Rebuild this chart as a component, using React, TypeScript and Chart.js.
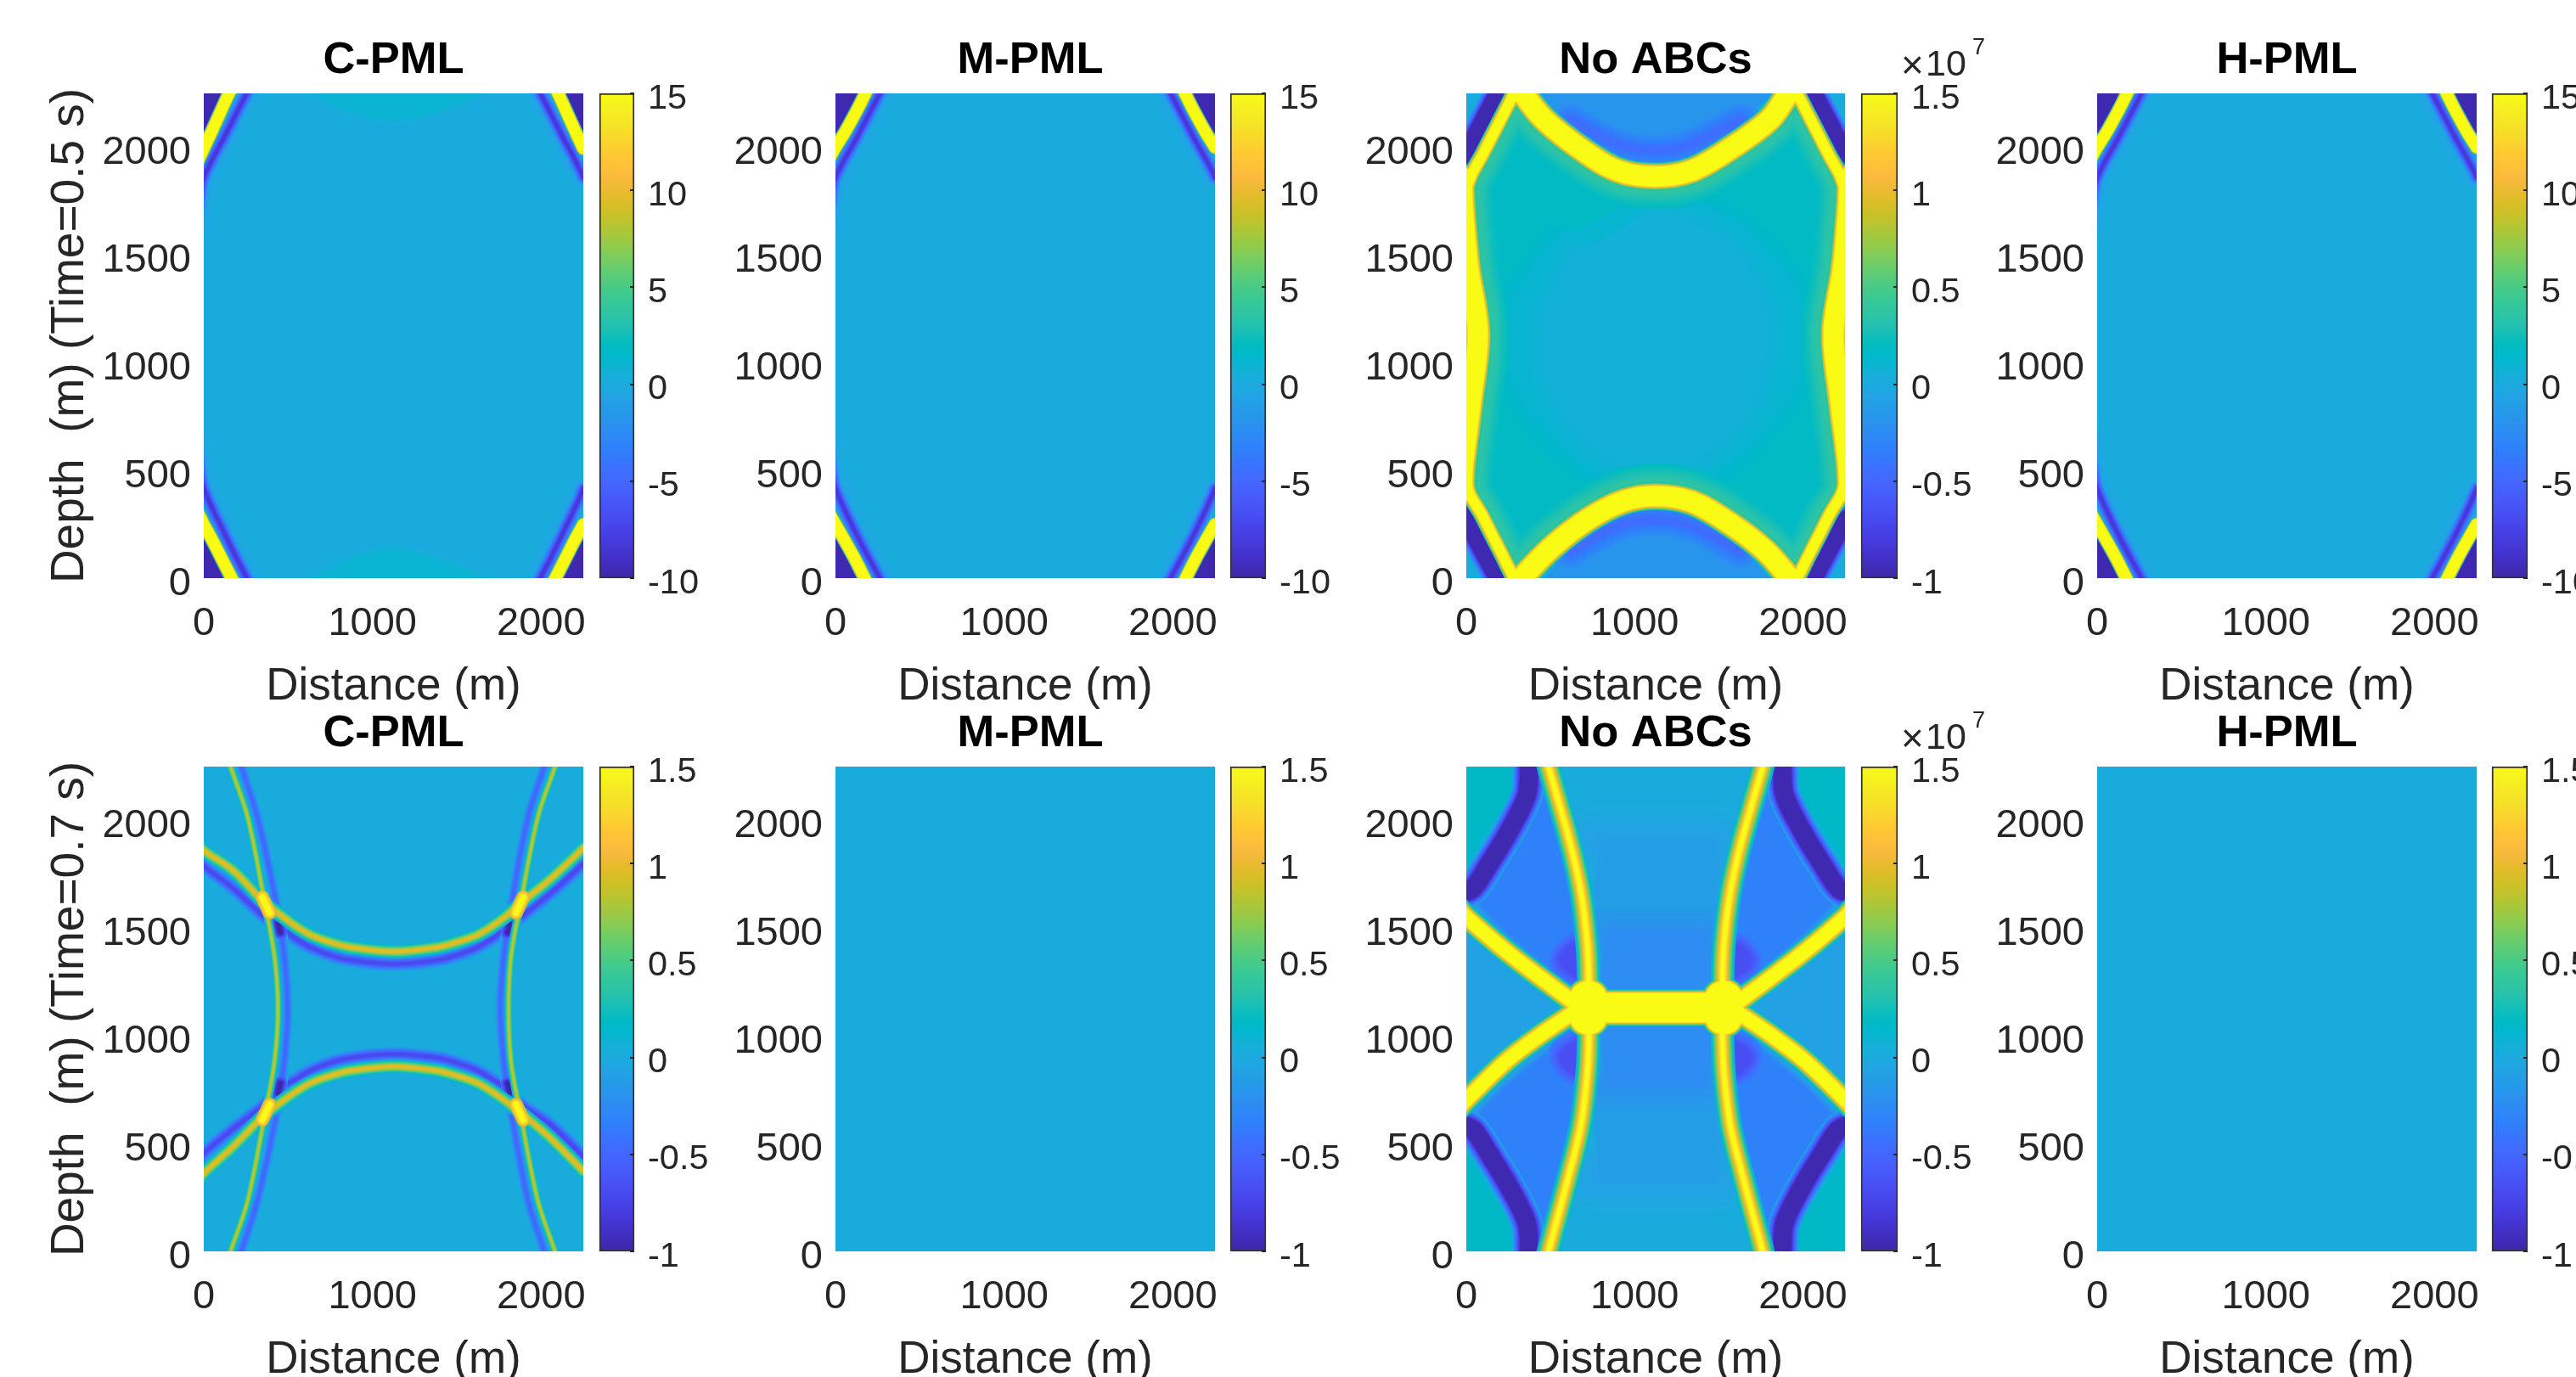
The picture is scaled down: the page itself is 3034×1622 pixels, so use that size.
import React, { useEffect, useRef } from "react";
import { Chart, registerables } from "chart.js";

Chart.register(...registerables);

type P = number[];
// ---------- axis data ----------
const xTicks = [0, 1000, 2000];
const yTicks = [0, 500, 1000, 1500, 2000];
const axisMax = 2250;
const pmlEarlyBar = [-10, 15];
const pmlEarlyBarTicks = [-10, -5, 0, 5, 10, 15];
const unitBar = [-1, 1.5];
const unitBarTicks = [-1, -0.5, 0, 0.5, 1, 1.5];
const domain: P[] = [[0, 0], [2250, 0], [2250, 2250], [0, 2250]];

// ---------- C-PML, t = 0.5 s (metres) ----------
const c5CornerTL: P[] = [[0, 2250], [150, 2250], [0, 1994]];
const c5CornerTR: P[] = [[2250, 2250], [2100, 2250], [2250, 1994]];
const c5CornerBL: P[] = [[0, 0], [165, 0], [0, 250]];
const c5CornerBR: P[] = [[2250, 0], [2085, 0], [2250, 250]];
const c5CrestTL: P[] = [[190, 2310], [150, 2250], [100, 2165], [50, 2078], [0, 1994], [-35, 1935]];
const c5CrestTR: P[] = [[2060, 2310], [2100, 2250], [2150, 2165], [2200, 2078], [2250, 1994], [2285, 1935]];
const c5CrestBL: P[] = [[205, -60], [165, 0], [110, 85], [55, 170], [0, 250], [-35, 305]];
const c5CrestBR: P[] = [[2045, -60], [2085, 0], [2140, 85], [2195, 170], [2250, 250], [2285, 305]];
const c5TroughTL: P[] = [[300, 2310], [255, 2250], [130, 2060], [0, 1860], [-25, 1760], [-45, 1620]];
const c5TroughTR: P[] = [[1950, 2310], [1995, 2250], [2120, 2060], [2250, 1860], [2275, 1760], [2295, 1620]];
const c5TroughBL: P[] = [[300, -60], [255, 0], [130, 195], [0, 416], [-25, 510], [-45, 650]];
const c5TroughBR: P[] = [[1950, -60], [1995, 0], [2120, 195], [2250, 416], [2275, 510], [2295, 650]];
const c5BumpTop: P[] = [[665, 2260], [860, 2180], [1125, 2140], [1390, 2180], [1650, 2260]];
const c5BumpBottom: P[] = [[665, -10], [860, 70], [1125, 120], [1390, 70], [1650, -10]];

// ---------- M-PML / H-PML, t = 0.5 s ----------
const m5CornerTL: P[] = [[0, 2250], [178, 2250], [0, 1999]];
const m5CornerTR: P[] = [[2250, 2250], [2072, 2250], [2250, 1999]];
const m5CornerBL: P[] = [[0, 0], [173, 0], [0, 250]];
const m5CornerBR: P[] = [[2250, 0], [2077, 0], [2250, 250]];
const m5CrestTL: P[] = [[215, 2310], [178, 2250], [120, 2160], [60, 2075], [0, 1999], [-35, 1950]];
const m5CrestTR: P[] = [[2035, 2310], [2072, 2250], [2130, 2160], [2190, 2075], [2250, 1999], [2285, 1950]];
const m5CrestBL: P[] = [[210, -60], [173, 0], [115, 90], [55, 175], [0, 250], [-35, 300]];
const m5CrestBR: P[] = [[2040, -60], [2077, 0], [2135, 90], [2195, 175], [2250, 250], [2285, 300]];
const m5TroughTL: P[] = [[305, 2310], [263, 2250], [130, 2050], [0, 1860], [-25, 1760], [-45, 1620]];
const m5TroughTR: P[] = [[1945, 2310], [1987, 2250], [2120, 2050], [2250, 1860], [2275, 1760], [2295, 1620]];
const m5TroughBL: P[] = [[305, -60], [263, 0], [130, 195], [0, 416], [-25, 510], [-45, 650]];
const m5TroughBR: P[] = [[1945, -60], [1987, 0], [2120, 195], [2250, 416], [2275, 510], [2295, 650]];

// ---------- No ABCs, t = 0.5 s ----------
const n5Interior: P[] = [[90, 2000], [300, 2190], [700, 1960], [1120, 1864], [1540, 1960], [1950, 2190], [2160, 2000], [2200, 1695], [2170, 1138], [2200, 540], [2160, 250], [1950, 60], [1540, 290], [1120, 381], [700, 290], [300, 60], [90, 250], [50, 540], [77, 1138], [50, 1695]];
const n5EllipseOuter: P[] = [[1120, 1800], [1720, 1560], [2008, 1135], [1720, 660], [1120, 416], [520, 660], [232, 1135], [520, 1560]];
const n5EllipseInner: P[] = [[1120, 1715], [1600, 1500], [1763, 1135], [1600, 720], [1120, 520], [640, 720], [476, 1135], [640, 1500]];
const n5ArcTop: P[] = [[263, 2320], [335, 2250], [463, 2128], [695, 1984], [900, 1891], [1120, 1864], [1338, 1891], [1570, 1994], [1802, 2128], [1915, 2250], [1987, 2320]];
const n5ArcBottom: P[] = [[250, -80], [329, 0], [515, 148], [721, 272], [927, 355], [1120, 381], [1338, 355], [1570, 252], [1776, 128], [1921, 0], [2000, -80]];
const n5SideLeft: P[] = [[-25, 1860], [-25, 1800], [-18, 1695], [10, 1448], [68, 1138], [28, 829], [-18, 540], [-25, 450], [-25, 400]];
const n5SideRight: P[] = [[2275, 1860], [2275, 1800], [2268, 1695], [2240, 1448], [2182, 1138], [2222, 829], [2268, 540], [2275, 450], [2275, 400]];
const n5DiagTL: P[] = [[330, 2320], [283, 2248], [163, 2066], [95, 1963], [30, 1870], [-5, 1790]];
const n5DiagTR: P[] = [[1920, 2320], [1967, 2248], [2087, 2066], [2155, 1963], [2220, 1870], [2255, 1790]];
const n5DiagBL: P[] = [[330, -70], [283, 0], [215, 107], [154, 200], [89, 300], [21, 390], [-5, 470]];
const n5DiagBR: P[] = [[1920, -70], [1967, 0], [2035, 107], [2096, 200], [2161, 300], [2229, 390], [2255, 470]];
const n5DomeTop: P[] = [[425, 2260], [643, 2087], [900, 1994], [1120, 1963], [1338, 1994], [1596, 2097], [1840, 2260]];
const n5DomeBottom: P[] = [[450, -10], [669, 159], [900, 262], [1120, 293], [1338, 262], [1596, 159], [1815, -10]];
const n5DomeShadeTop: P[] = [[620, 2130], [900, 2015], [1120, 1985], [1338, 2015], [1630, 2130]];
const n5DomeShadeBottom: P[] = [[620, 120], [900, 240], [1120, 270], [1338, 240], [1630, 120]];
const n5DarkTL: P[] = [[230, 2320], [185, 2248], [90, 2107], [0, 1973], [-40, 1910]];
const n5DarkTR: P[] = [[2020, 2320], [2065, 2248], [2160, 2107], [2250, 1973], [2290, 1910]];
const n5DarkBL: P[] = [[230, -70], [185, 0], [90, 138], [0, 272], [-40, 335]];
const n5DarkBR: P[] = [[2020, -70], [2065, 0], [2160, 138], [2250, 272], [2290, 335]];

// ---------- C-PML, t = 0.7 s ----------
const c7ArcUpper: P[] = [[-40, 1900], [0, 1861], [174, 1768], [361, 1617], [463, 1557], [550, 1507], [636, 1468], [750, 1435], [868, 1412], [1128, 1392], [1388, 1412], [1500, 1435], [1620, 1468], [1705, 1507], [1793, 1557], [1880, 1617], [2053, 1727], [2250, 1872], [2290, 1910]];
const c7ArcLower: P[] = [[-40, 320], [0, 362], [174, 486], [361, 633], [463, 695], [550, 743], [636, 782], [750, 815], [868, 838], [1128, 858], [1388, 838], [1500, 815], [1620, 782], [1705, 743], [1793, 695], [1895, 633], [2053, 527], [2250, 372], [2290, 335]];
const c7ShadeUpper: P[] = [[-40, 1830], [0, 1789], [174, 1685], [361, 1551], [463, 1499], [550, 1449], [636, 1410], [750, 1375], [868, 1352], [1128, 1334], [1388, 1352], [1500, 1375], [1620, 1410], [1705, 1449], [1793, 1499], [1880, 1551], [2053, 1660], [2250, 1800], [2290, 1840]];
const c7ShadeLower: P[] = [[-40, 415], [0, 455], [174, 569], [361, 682], [448, 755], [550, 801], [636, 840], [750, 875], [868, 898], [1128, 916], [1388, 898], [1500, 875], [1620, 840], [1705, 801], [1793, 755], [1880, 682], [2053, 590], [2250, 440], [2290, 400]];
const c7WaveLeft: P[] = [[140, 2310], [159, 2250], [260, 2016], [361, 1620], [419, 1370], [440, 1127], [419, 880], [361, 630], [260, 234], [159, 0], [140, -60]];
const c7WaveRight: P[] = [[2100, 2310], [2082, 2250], [1981, 2016], [1880, 1620], [1822, 1370], [1807, 1127], [1822, 880], [1880, 630], [1981, 234], [2082, 0], [2100, -60]];
const c7ShadeLeft: P[] = [[205, 2310], [223, 2250], [318, 2016], [434, 1600], [477, 1370], [497, 1127], [477, 880], [434, 650], [318, 234], [223, 0], [205, -60]];
const c7ShadeRight: P[] = [[2037, 2310], [2019, 2250], [1923, 2016], [1822, 1600], [1779, 1370], [1758, 1127], [1779, 880], [1822, 650], [1923, 234], [2019, 0], [2037, -60]];
const c7HotTL: P[] = [[347, 1644], [390, 1571]];
const c7HotTR: P[] = [[1894, 1644], [1851, 1571]];
const c7HotBL: P[] = [[390, 682], [347, 610]];
const c7HotBR: P[] = [[1851, 682], [1894, 610]];
const c7ColdTL: P[] = [[440, 1520], [455, 1480]];
const c7ColdTR: P[] = [[1815, 1520], [1800, 1480]];
const c7ColdBL: P[] = [[455, 780], [440, 735]];
const c7ColdBR: P[] = [[1800, 780], [1815, 735]];

// ---------- No ABCs, t = 0.7 s ----------
const n7ColumnUp: P[] = [[790, 1900], [1460, 1900], [1540, 1180], [710, 1180]];
const n7ColumnDown: P[] = [[710, 1080], [1540, 1080], [1460, 350], [790, 350]];
const n7CoreUp: P[] = [[840, 1480], [1410, 1480], [1490, 1180], [770, 1180]];
const n7CoreDown: P[] = [[770, 1080], [1490, 1080], [1410, 780], [840, 780]];
const n7GapLeft: P[] = [[0, 1450], [520, 1131], [0, 800]];
const n7GapRight: P[] = [[2250, 1450], [1730, 1131], [2250, 800]];
const n7CornerTL: P[] = [[0, 2250], [309, 2250], [232, 2099], [103, 1954], [0, 1820]];
const n7CornerTR: P[] = [[2250, 2250], [1941, 2250], [2018, 2099], [2147, 1954], [2250, 1820]];
const n7CornerBL: P[] = [[0, 0], [309, 0], [232, 151], [103, 296], [0, 430]];
const n7CornerBR: P[] = [[2250, 0], [1941, 0], [2018, 151], [2147, 296], [2250, 430]];
const n7WedgeTL: P[] = [[437, 2250], [592, 1892], [674, 1582], [682, 1272], [618, 1251], [438, 1354], [232, 1489], [51, 1634], [129, 1747], [335, 1975], [425, 2140]];
const n7WedgeTR: P[] = [[1813, 2250], [1658, 1892], [1576, 1582], [1568, 1272], [1632, 1251], [1812, 1354], [2018, 1489], [2199, 1634], [2121, 1747], [1915, 1975], [1825, 2140]];
const n7WedgeBL: P[] = [[437, 0], [592, 358], [674, 668], [682, 978], [618, 999], [438, 896], [232, 761], [51, 616], [129, 503], [335, 275], [425, 110]];
const n7WedgeBR: P[] = [[1813, 0], [1658, 358], [1576, 668], [1568, 978], [1632, 999], [1812, 896], [2018, 761], [2199, 616], [2121, 503], [1915, 275], [1825, 110]];
const n7TipTL: P[] = [[660, 1270], [570, 1320], [560, 1370], [650, 1430], [680, 1350]];
const n7TipTR: P[] = [[1590, 1270], [1680, 1320], [1690, 1370], [1600, 1430], [1570, 1350]];
const n7TipBL: P[] = [[660, 980], [570, 930], [560, 880], [650, 820], [680, 900]];
const n7TipBR: P[] = [[1590, 980], [1680, 930], [1690, 880], [1600, 820], [1570, 900]];
const n7DarkTL: P[] = [[385, 2320], [373, 2250], [360, 2120], [257, 1954], [129, 1789], [39, 1685], [-30, 1660]];
const n7DarkTR: P[] = [[1865, 2320], [1877, 2250], [1890, 2120], [1993, 1954], [2121, 1789], [2211, 1685], [2280, 1660]];
const n7DarkBL: P[] = [[385, -70], [373, 0], [360, 130], [257, 296], [129, 461], [39, 565], [-30, 590]];
const n7DarkBR: P[] = [[1865, -70], [1877, 0], [1890, 130], [1993, 296], [2121, 461], [2211, 565], [2280, 590]];
const n7FrontLeft: P[] = [[475, 2310], [489, 2250], [618, 1892], [682, 1665], [720, 1417], [728, 1230], [728, 1003], [720, 839], [682, 589], [605, 341], [489, 0], [475, -60]];
const n7FrontRight: P[] = [[1775, 2310], [1761, 2250], [1632, 1892], [1568, 1665], [1530, 1417], [1522, 1230], [1522, 1003], [1530, 839], [1568, 589], [1645, 341], [1761, 0], [1775, -60]];
const n7DiagTL: P[] = [[-40, 1585], [0, 1551], [232, 1396], [438, 1272], [680, 1131]];
const n7DiagBL: P[] = [[-40, 670], [0, 703], [232, 879], [438, 1003], [680, 1131]];
const n7DiagTR: P[] = [[2290, 1585], [2250, 1551], [2018, 1396], [1812, 1272], [1570, 1131]];
const n7DiagBR: P[] = [[2290, 670], [2250, 703], [2018, 879], [1812, 1003], [1570, 1131]];
const n7Bar: P[] = [[725, 1131], [1530, 1131]];
const n7BlobLeft: P[] = [[725, 1095], [725, 1167]];
const n7BlobRight: P[] = [[1530, 1095], [1530, 1167]];

// ---------- colour map (parula, 64 levels) ----------
const parula: P[] = [
  [.2422, .1504, .6603], [.2504, .165, .7076], [.2578, .1818, .7511], [.2647, .1978, .7952], [.2706, .2147, .8364], [.2751, .2342, .871], [.2783, .2559, .8991], [.2803, .2782, .9221],
  [.2813, .3006, .9414], [.281, .3228, .9579], [.2795, .3447, .9717], [.276, .3667, .9829], [.2699, .3892, .9906], [.2602, .4123, .9952], [.244, .4358, .9988], [.2206, .4603, .9973],
  [.1963, .4847, .9892], [.1834, .5074, .9798], [.1786, .5289, .9682], [.1764, .5499, .952], [.1687, .5703, .9359], [.154, .5902, .9218], [.146, .6091, .9079], [.138, .6276, .8973],
  [.1248, .6459, .8883], [.1113, .6635, .8763], [.0952, .6798, .8598], [.0689, .6948, .8394], [.0297, .7082, .8163], [.0036, .7203, .7917], [.0067, .7312, .766], [.0433, .7411, .7394],
  [.0964, .75, .712], [.1408, .7584, .6842], [.1717, .767, .6554], [.1938, .7758, .6251], [.2161, .7843, .5923], [.247, .7918, .5567], [.2906, .7973, .5188], [.3406, .8008, .4789],
  [.3909, .8029, .4354], [.4456, .8024, .3909], [.5044, .7993, .348], [.5616, .7942, .3045], [.6174, .7876, .2612], [.672, .7793, .2227], [.7242, .7698, .191], [.7738, .7598, .1646],
  [.8203, .7498, .1535], [.8634, .7406, .1596], [.9035, .733, .1774], [.9393, .7288, .21], [.9728, .7298, .2394], [.9956, .7434, .2371], [.997, .7659, .2199], [.9952, .7861, .1991],
  [.9892, .813, .1885], [.9786, .8422, .1778], [.9676, .8724, .1624], [.961, .8904, .1536], [.9597, .9135, .1426], [.9628, .9373, .1265], [.9691, .9606, .1064], [.9769, .9839, .0805],
];
function cmap(t: number) {
  const f = Math.max(0, Math.min(1, t)) * 63;
  const i = Math.min(62, Math.floor(f));
  const k = f - i;
  const c = parula[i].map((v, j) => Math.round(255 * (v + (parula[i + 1][j] - v) * k)));
  return `rgb(${c[0]},${c[1]},${c[2]})`;
}

// ---------- mark builders ----------
const BASE = 0.405;
function ds(pts: P[], extra: any) {
  return {
    data: pts.map(([x, y]) => ({ x, y })),
    showLine: true, pointRadius: 0, pointHoverRadius: 0, clip: 0,
    capBezierPoints: false, borderCapStyle: "round", borderJoinStyle: "round",
    ...extra,
  };
}
// Crossing fronts share their colour levels, so that they merge at the joints.
type Stroke = [P[], number, number, number?];
function merged(strokes: Stroke[], tCore: number, tEdge = BASE, n = 8) {
  const out: any[] = [];
  for (let i = 0; i <= n; i++) {
    const k = i / n;
    strokes.forEach(([pts, wCore, wHalo, tension = 0.35]) => {
      out.push(ds(pts, { borderWidth: wHalo + (wCore - wHalo) * k, borderColor: cmap(tEdge + (tCore - tEdge) * k), tension, fill: false }));
    });
  }
  return out;
}
function band(pts: P[], tCore: number, wCore: number, wHalo: number, tEdge = BASE, n = 7, tension = 0.35) {
  return merged([[pts, wCore, wHalo, tension]], tCore, tEdge, n);
}
function area(pts: P[], t: number, soft = 0, tEdge = BASE, n = 6, tension = 0) {
  if (soft === 0) return [ds(pts, { borderWidth: 0, backgroundColor: cmap(t), fill: "shape", tension })];
  const out: any[] = [];
  for (let i = 0; i <= n; i++) {
    const k = i / n;
    const c = cmap(tEdge + (t - tEdge) * k);
    out.push(ds(pts, { borderWidth: soft * (1 - k) + 0.01, borderColor: c, backgroundColor: c, fill: "shape", tension }));
  }
  return out;
}

const flat = () => area(domain, BASE);

const c5Layers = () => [
  ...flat(),
  ...area(c5BumpTop, 0.425, 24, BASE, 5, 0.35), ...area(c5BumpTop, 0.44, 12, 0.425, 4, 0.35),
  ...area(c5BumpBottom, 0.425, 24, BASE, 5, 0.35), ...area(c5BumpBottom, 0.44, 12, 0.425, 4, 0.35),
  ...[c5TroughTL, c5TroughTR, c5TroughBL, c5TroughBR].flatMap((p) => [...band(p, 0.375, 18, 38, BASE, 4), ...band(p, 0.07, 4, 18, 0.375, 6)]),
  ...[c5CornerTL, c5CornerTR, c5CornerBL, c5CornerBR].flatMap((p) => area(p, 0.01)),
  ...[c5CrestTL, c5CrestTR, c5CrestBL, c5CrestBR].flatMap((p) => band(p, 1, 13, 17, 0.45, 4)),
];
const m5Layers = () => [
  ...flat(),
  ...[m5TroughTL, m5TroughTR, m5TroughBL, m5TroughBR].flatMap((p) => [...band(p, 0.375, 18, 38, BASE, 4), ...band(p, 0.07, 4, 18, 0.375, 6)]),
  ...[m5CornerTL, m5CornerTR, m5CornerBL, m5CornerBR].flatMap((p) => area(p, 0.01)),
  ...[m5CrestTL, m5CrestTR, m5CrestBL, m5CrestBR].flatMap((p) => band(p, 1, 13, 17, 0.45, 4)),
];
const n5Crests = (growCore: number, growHalo: number): Stroke[] => [
  [n5ArcTop, 23 + growCore, 33 + growHalo], [n5ArcBottom, 23 + growCore, 33 + growHalo],
  [n5SideLeft, 23 + growCore, 33 + growHalo], [n5SideRight, 23 + growCore, 33 + growHalo],
  [n5DiagTL, 11 + growCore, 20 + growHalo], [n5DiagTR, 11 + growCore, 20 + growHalo], [n5DiagBL, 11 + growCore, 20 + growHalo], [n5DiagBR, 11 + growCore, 20 + growHalo],
];
const n5Layers = () => [
  ...flat(),
  ...area(n5Interior, 0.475),
  ...area(n5EllipseOuter, 0.445, 60, 0.475, 8, 0.4),
  ...area(n5EllipseInner, 0.425, 60, 0.445, 8, 0.4),
  ...merged(n5Crests(10, 44), 0.56, 0.475, 10),
  ...area(n5DomeTop, 0.33, 6, 0.45, 3, 0.35),
  ...area(n5DomeBottom, 0.33, 6, 0.45, 3, 0.35),
  ...band(n5DomeShadeTop, 0.22, 8, 46, 0.33, 6),
  ...band(n5DomeShadeBottom, 0.22, 8, 46, 0.33, 6),
  ...[n5DarkTL, n5DarkTR, n5DarkBL, n5DarkBR].flatMap((p) => band(p, 0.01, 20, 34, 0.36, 5)),
  ...merged(n5Crests(0, 0), 1, 0.5, 7),
];
const c7Layers = () => [
  ...flat(),
  ...[c7ShadeUpper, c7ShadeLower].flatMap((p) => band(p, 0.12, 4, 20)),
  ...[c7ShadeLeft, c7ShadeRight].flatMap((p) => band(p, 0.2, 3, 14)),
  ...[c7ColdTL, c7ColdTR, c7ColdBL, c7ColdBR].flatMap((p) => band(p, 0, 5, 16, 0.2, 4)),
  ...merged([[c7ArcUpper, 4, 17], [c7ArcLower, 4, 17]], 0.78),
  ...merged([[c7WaveLeft, 2, 10], [c7WaveRight, 2, 10]], 0.74),
  ...[c7HotTL, c7HotTR, c7HotBL, c7HotBR].flatMap((p) => band(p, 1, 6, 16, 0.76, 5, 0)),
];
const n7Layers = () => [
  ...flat(),
  ...[n7ColumnUp, n7ColumnDown].flatMap((p) => area(p, 0.355, 100, BASE, 8)),
  ...[n7CoreUp, n7CoreDown].flatMap((p) => area(p, 0.305, 70, 0.355, 8)),
  ...[n7GapLeft, n7GapRight].flatMap((p) => area(p, 0.37, 30)),
  ...[n7CornerTL, n7CornerTR, n7CornerBL, n7CornerBR].flatMap((p) => area(p, 0.47, 30)),
  ...[n7WedgeTL, n7WedgeTR, n7WedgeBL, n7WedgeBR].flatMap((p) => area(p, 0.27, 20)),
  ...[n7TipTL, n7TipTR, n7TipBL, n7TipBR].flatMap((p) => area(p, 0.13, 30, 0.27, 8, 0.4)),
  ...[n7DarkTL, n7DarkTR, n7DarkBL, n7DarkBR].flatMap((p) => band(p, 0.01, 21, 38, 0.36, 6)),
  ...merged([
    [n7FrontLeft, 5, 28], [n7FrontRight, 5, 28],
    [n7DiagTL, 15, 29], [n7DiagBL, 15, 29], [n7DiagTR, 15, 29], [n7DiagBR, 15, 29],
    [n7Bar, 34, 44, 0], [n7BlobLeft, 44, 54, 0], [n7BlobRight, 44, 54, 0],
  ], 1, BASE, 10),
];

// ---------- layout ----------
const FONT = "'Liberation Sans', Arial, sans-serif";
const INK = "#262626";
const M = 230, T = 100, B = 170;
const rows = [{ top: 110, h: 571 }, { top: 903, h: 571 }];
const cols = [
  { left: 240, w: 447, barLeft: 706, barW: 41, titleShift: 0 },
  { left: 984, w: 447, barLeft: 1449, barW: 42, titleShift: 12 },
  { left: 1727, w: 446, barLeft: 2192, barW: 43, titleShift: 0 },
  { left: 2470, w: 447, barLeft: 2935, barW: 42, titleShift: 0 },
];
const titles = ["C-PML", "M-PML", "No ABCs", "H-PML"];
const depthLabels = ["Depth  (m) (Time=0.5 s)", "Depth  (m) (Time=0.7 s)"];
const xLabel = "Distance (m)";
const layers = [
  [c5Layers, m5Layers, n5Layers, m5Layers],
  [c7Layers, flat, n7Layers, flat],
];

function Panel({ row, col }: { row: number; col: number }) {
  const ref = useRef<HTMLCanvasElement>(null);
  const r = rows[row], c = cols[col];
  useEffect(() => {
    // Chart.js paints dataset 0 last, so the bottom layer goes at the end.
    const stack = (layers[row][col]() as any[]).slice().reverse();
    const chart = new Chart(ref.current!, {
      type: "scatter",
      data: { datasets: stack },
      options: {
        animation: false, responsive: false, devicePixelRatio: 1, events: [],
        plugins: {
          legend: { display: false }, tooltip: { enabled: false },
          title: {
            display: true, text: titles[col], color: "#000",
            font: { family: FONT, size: 52.5, weight: "bold", lineHeight: 1.2 },
            padding: { top: 30.5, bottom: 6.5 },
          },
        },
        scales: {
          x: {
            type: "linear", min: 0, max: axisMax,
            afterBuildTicks: (a: any) => { a.ticks = xTicks.map((value) => ({ value })); },
            afterFit: (s: any) => { s.height = B; },
            grid: { display: false, drawTicks: false }, border: { display: false },
            ticks: { color: INK, font: { family: FONT, size: 47 }, padding: 26, maxRotation: 0, autoSkip: false, callback: (v: any) => String(v) },
            title: { display: true, text: xLabel, color: INK, font: { family: FONT, size: 53, lineHeight: 1.2 }, padding: { top: 0, bottom: 10 } },
          },
          y: {
            type: "linear", min: 0, max: axisMax,
            afterBuildTicks: (a: any) => { a.ticks = yTicks.map((value) => ({ value })); },
            afterFit: (s: any) => { s.width = M; },
            grid: { display: false, drawTicks: false }, border: { display: false },
            ticks: { color: INK, font: { family: FONT, size: 47, lineHeight: 0.3 }, padding: 15, autoSkip: false, callback: (v: any) => ["", String(v)] },
            title: { display: col === 0, text: depthLabels[row], color: INK, font: { family: FONT, size: 55, lineHeight: 1.2 }, padding: { top: 40, bottom: 0 } },
          },
          gutter: {
            type: "linear", position: "right", display: true,
            afterFit: (s: any) => { s.width = M + c.titleShift; },
            grid: { display: false, drawTicks: false }, border: { display: false },
            ticks: { display: false },
          },
        },
      } as any,
    });
    return () => chart.destroy();
  }, []);
  return (
    <canvas ref={ref} width={c.w + 2 * M + c.titleShift} height={r.h + T + B}
      style={{ position: "absolute", left: c.left - M, top: r.top - T }} />
  );
}

const BT = 80, BB = 40, BR = 160;
function ColorBar({ row, col }: { row: number; col: number }) {
  const ref = useRef<HTMLCanvasElement>(null);
  const r = rows[row], c = cols[col];
  const exponent = col === 2;
  const unit = row === 1 || exponent;
  const range = unit ? unitBar : pmlEarlyBar;
  const ticks = unit ? unitBarTicks : pmlEarlyBarTicks;
  useEffect(() => {
    const extras = {
      id: "barExtras",
      afterDraw(chart: any) {
        const g = chart.ctx, y = chart.scales.y, a = chart.chartArea;
        g.save();
        g.strokeStyle = INK; g.lineWidth = 2;
        ticks.forEach((v) => {
          const py = Math.round(y.getPixelForValue(v));
          g.beginPath(); g.moveTo(a.right - 5, py); g.lineTo(a.right, py); g.stroke();
        });
        if (exponent) {
          g.fillStyle = INK; g.textBaseline = "middle"; g.textAlign = "left";
          g.font = `46px ${FONT}`;
          g.fillText("\u00d7", a.left + 47, a.top - 31);
          g.font = `43px ${FONT}`;
          g.fillText("10", a.left + 76, a.top - 33);
          g.font = `27px ${FONT}`;
          g.fillText("7", a.left + 131, a.top - 53);
        }
        g.restore();
      },
    };
    const chart = new Chart(ref.current!, {
      type: "bar",
      data: {
        labels: [""],
        datasets: [{
          data: [[range[0], range[1]]] as any,
          barPercentage: 1, categoryPercentage: 1, borderWidth: 2, borderColor: "#333333", borderSkipped: false,
          clip: false,
          backgroundColor: (ctx: any) => {
            const a = ctx.chart.chartArea;
            if (!a) return cmap(0.4);
            const grad = ctx.chart.ctx.createLinearGradient(0, a.bottom, 0, a.top);
            parula.forEach((_, i) => grad.addColorStop(i / 63, cmap(i / 63)));
            return grad;
          },
        } as any],
      },
      options: {
        animation: false, responsive: false, devicePixelRatio: 1, events: [],
        layout: { padding: { left: 2, top: BT, bottom: BB, right: 0 } },
        plugins: { legend: { display: false }, tooltip: { enabled: false }, title: { display: false } },
        scales: {
          x: { display: false },
          y: {
            position: "right", min: range[0], max: range[1],
            afterBuildTicks: (a: any) => { a.ticks = ticks.map((value) => ({ value })); },
            afterFit: (s: any) => { s.width = BR; },
            grid: { display: false, drawTicks: false }, border: { display: false },
            ticks: { color: INK, font: { family: FONT, size: 41.5, lineHeight: 0.3 }, padding: 16, autoSkip: false, callback: (v: any) => ["", String(v)] },
          },
        },
      } as any,
      plugins: [extras],
    });
    return () => chart.destroy();
  }, []);
  return (
    <canvas ref={ref} width={c.barW + BR + 2} height={r.h + BT + BB}
      style={{ position: "absolute", left: c.barLeft - 2, top: r.top - BT }} />
  );
}

export default function App() {
  return (
    <div style={{ position: "fixed", left: 0, top: 0, width: 3034, height: 1622, overflow: "hidden", background: "#fff" }}>
      {rows.map((_, row) => cols.map((_, col) => (
        <React.Fragment key={`${row}-${col}`}>
          <Panel row={row} col={col} />
          <ColorBar row={row} col={col} />
        </React.Fragment>
      )))}
    </div>
  );
}
